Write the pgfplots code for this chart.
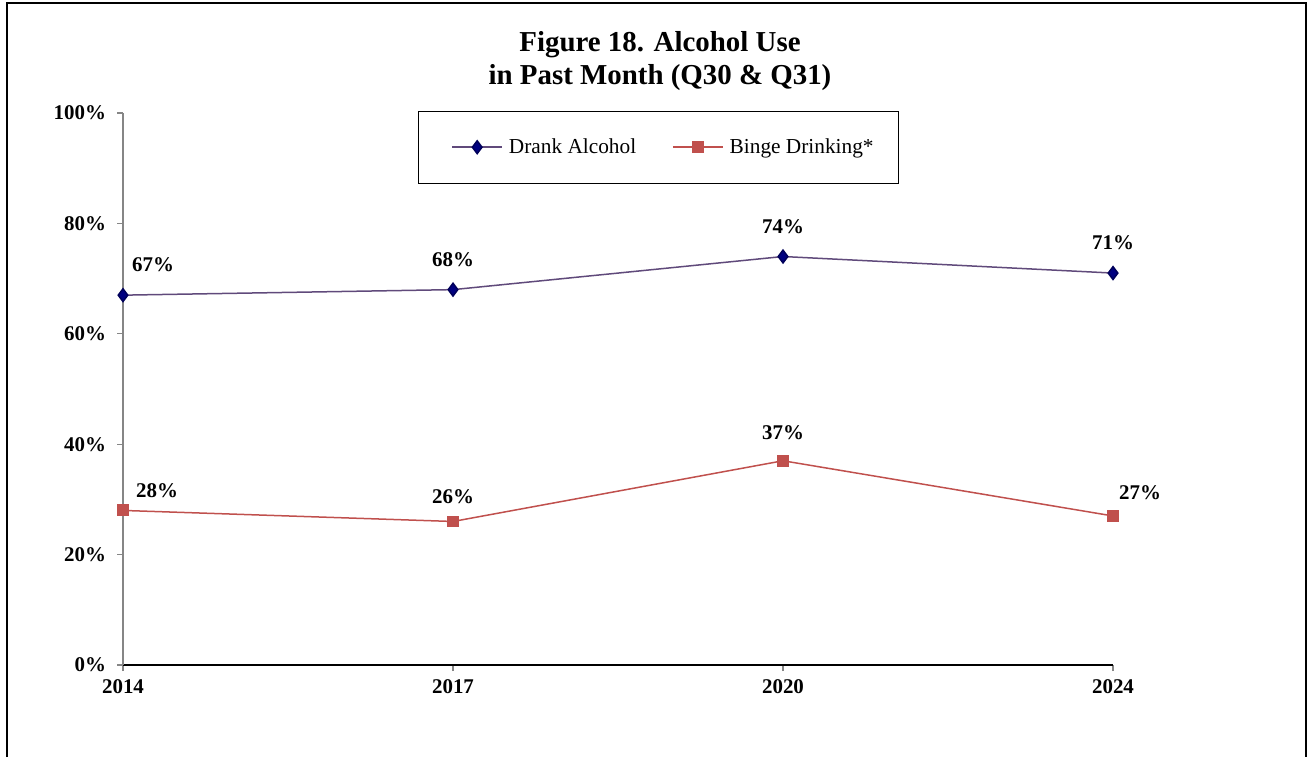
\documentclass[border=0pt]{standalone}
\usepackage{pgfplots}
\pgfplotsset{compat=1.18}
\usepackage{fontspec}
\setmainfont{Liberation Serif}
\definecolor{alc}{RGB}{96,74,123}
\definecolor{alcm}{RGB}{0,0,128}
\definecolor{binge}{RGB}{192,80,77}
\definecolor{axgray}{RGB}{134,134,134}
\begin{document}
\begin{tikzpicture}[x=1bp,y=1bp]
\path[use as bounding box] (0,0) rectangle (653.5,378.5);
\draw[line width=1bp] (3.5,0) -- (3.5,377) -- (653,377) -- (653,0);
\node[font=\fontsize{14.5}{16.5}\selectfont\bfseries, align=center] at (330,348) {Figure 18. Alcohol Use\\in Past Month (Q30 \& Q31)};
\draw[line width=0.5bp] (209,287) rectangle (449,323);
\begin{axis}[
  at={(61.5bp,46bp)}, anchor=south west,
  scale only axis, width=495bp, height=276bp,
  xmin=0, xmax=3, ymin=0, ymax=100,
  axis x line*=bottom, axis y line*=left,
  x axis line style={black, line width=0.6bp},
  y axis line style={axgray, line width=0.6bp},
  xtick={0,1,2,3}, xticklabels={2014,2017,2020,2024},
  ytick={0,20,40,60,80,100},
  yticklabel={\pgfmathprintnumber{\tick}\%},
  tick align=outside, major tick length=3bp,
  tick style={axgray, line width=0.6bp},
  /pgf/number format/assume math mode=true,
  ticklabel style={font=\fontsize{10.5}{12}\selectfont\bfseries},
  xticklabel style={yshift=-1bp},
  yticklabel style={xshift=-2bp},
  legend columns=2,
  legend style={at={(0.548,0.938)}, anchor=center, draw=none, fill=none,
    font=\fontsize{10.7}{12}\selectfont, inner xsep=0bp, inner ysep=0bp,
    /tikz/every even column/.append style={column sep=15bp},
    nodes={inner xsep=3bp}},
  legend image code/.code={\draw[mark repeat=2,mark phase=2] plot coordinates {(0bp,0bp) (12.5bp,0bp) (25bp,0bp)};},
  clip=false,
]
\addplot[alc, line width=0.75bp, mark=diamond*, mark size=3.2bp, mark options={fill=alcm, draw=alcm!70!black}] coordinates {(0,67) (1,68) (2,74) (3,71)};
\addlegendentry{Drank Alcohol}
\addplot[binge, line width=0.75bp, mark=square*, mark size=2.6bp, mark options={fill=binge, draw=binge}] coordinates {(0,28) (1,26) (2,37) (3,27)};
\addlegendentry{Binge Drinking*}
\begin{scope}[every node/.style={font=\fontsize{10.5}{12}\selectfont\bfseries}]
\node at ([xshift=15bp,yshift=15bp]axis cs:0,67) {67\%};
\node at ([yshift=15bp]axis cs:1,68) {68\%};
\node at ([yshift=15bp]axis cs:2,74) {74\%};
\node at ([yshift=15bp]axis cs:3,71) {71\%};
\node at ([xshift=17bp,yshift=10bp]axis cs:0,28) {28\%};
\node at ([yshift=12.5bp]axis cs:1,26) {26\%};
\node at ([yshift=14bp]axis cs:2,37) {37\%};
\node at ([xshift=13.5bp,yshift=11.5bp]axis cs:3,27) {27\%};
\end{scope}
\end{axis}
\end{tikzpicture}
\end{document}
